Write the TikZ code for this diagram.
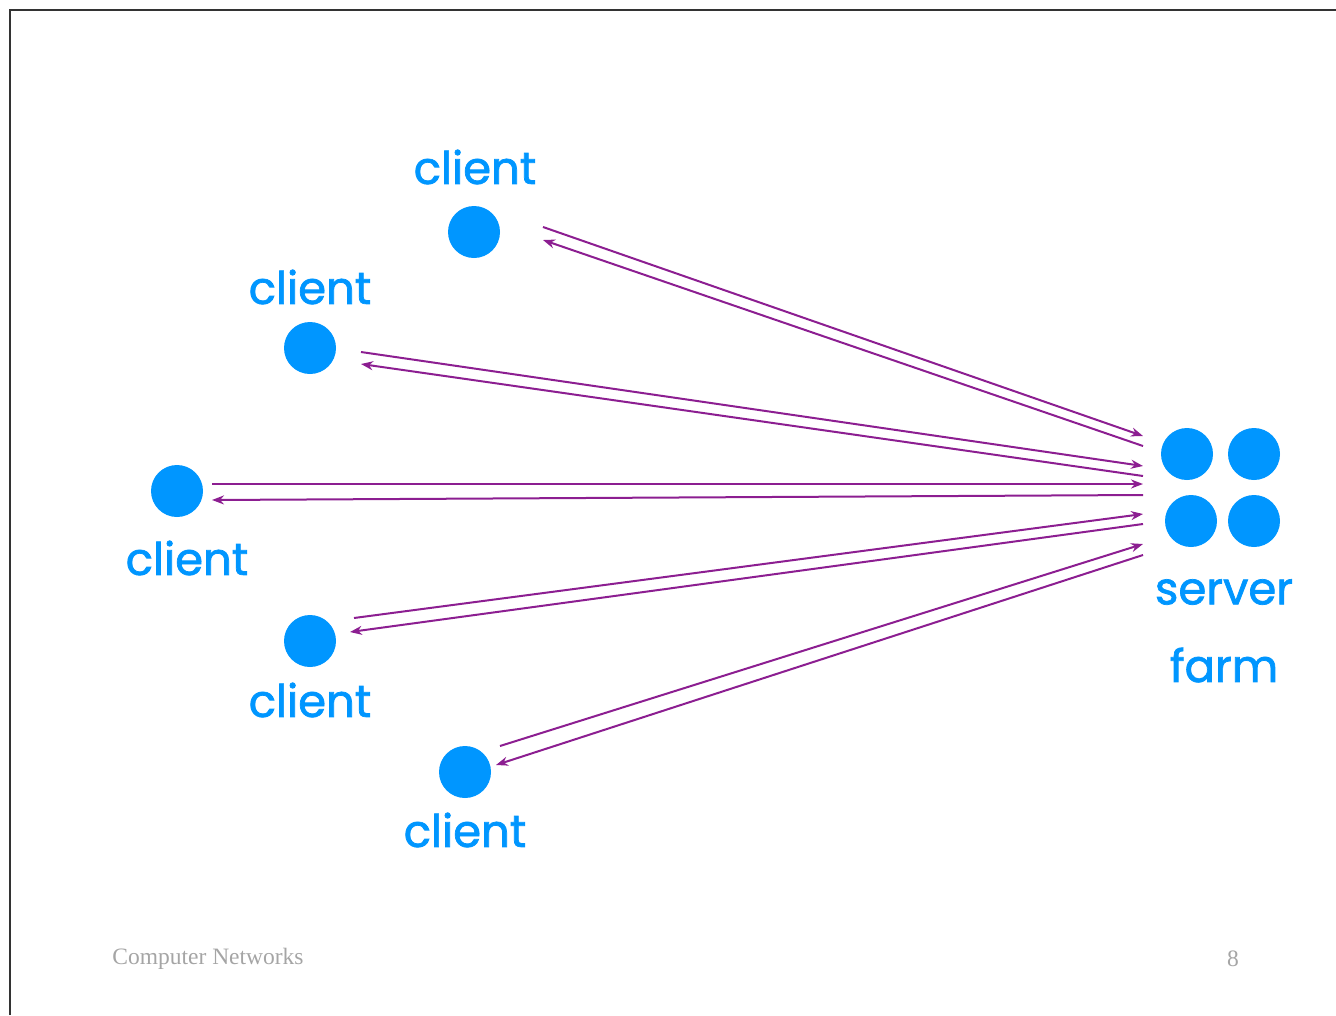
\documentclass[tikz,border=0pt]{standalone}
\usepackage{fontspec}
\setmainfont{Liberation Serif}
\newfontfamily\labelfont[FakeBold=1.6]{Poppins}
\usetikzlibrary{arrows.meta}
\definecolor{cblue}{RGB}{0,150,255}
\definecolor{cpurple}{RGB}{140,30,145}
\definecolor{fgray}{RGB}{165,165,165}
\tikzset{
  host/.style={circle,fill=cblue,inner sep=0pt,minimum size=52pt},
  lbl/.style={text=cblue,font=\labelfont\fontsize{45}{50}\selectfont,inner sep=0pt},
  link/.style={draw=cpurple,line width=2pt,-{Stealth[length=12pt,width=9pt]}},
  foot/.style={text=fgray,font=\fontsize{23.5}{26}\selectfont,inner sep=0pt}
}
\begin{document}
\begin{tikzpicture}[x=1pt,y=-1pt]
\useasboundingbox (0,0) rectangle (1336,1015);
% frame
\draw[line width=1.5pt,black!80] (10,1015) -- (10,10) -- (1336,10);
% clients
\node[host] (c1) at (474,232) {};
\node[host] (c2) at (310,348) {};
\node[host] (c3) at (177,491) {};
\node[host] (c4) at (310,641) {};
\node[host] (c5) at (465,772) {};
\node[lbl] (l1) at (475,167) {client};
\node[lbl] (l2) at (310,287) {client};
\node[lbl] (l3) at (187,558) {client};
\node[lbl] (l4) at (310,700) {client};
\node[lbl] (l5) at (465,830) {client};
% server farm
\node[host] (s1) at (1187,454) {};
\node[host] (s2) at (1254,454) {};
\node[host] (s3) at (1191,521) {};
\node[host] (s4) at (1254,521) {};
\node[lbl] (sl1) at (1224,592) {server};
\node[lbl] (sl2) at (1224,665) {farm};
% endpoints
\coordinate (a1) at (543,227); \coordinate (b1) at (1143,436);
\coordinate (a1r) at (543,240); \coordinate (b1r) at (1143,446);
\coordinate (a2) at (361,352); \coordinate (b2) at (1143,466);
\coordinate (a2r) at (361,364); \coordinate (b2r) at (1143,476);
\coordinate (a3) at (212,484); \coordinate (b3) at (1143,484);
\coordinate (a3r) at (212,500); \coordinate (b3r) at (1143,495);
\coordinate (a4) at (354,618); \coordinate (b4) at (1143,514);
\coordinate (a4r) at (350,632); \coordinate (b4r) at (1143,524);
\coordinate (a5) at (500,746); \coordinate (b5) at (1143,544);
\coordinate (a5r) at (496,765); \coordinate (b5r) at (1143,555);
\draw[link] (a1) -- (b1); \draw[link] (b1r) -- (a1r);
\draw[link] (a2) -- (b2); \draw[link] (b2r) -- (a2r);
\draw[link] (a3) -- (b3); \draw[link] (b3r) -- (a3r);
\draw[link] (a4) -- (b4); \draw[link] (b4r) -- (a4r);
\draw[link] (a5) -- (b5); \draw[link] (b5r) -- (a5r);
% footer
\node[foot] (ft) at (208,959) {Computer Networks};
\node[foot] (pg) at (1233,959) {8};
\end{tikzpicture}
\end{document}
